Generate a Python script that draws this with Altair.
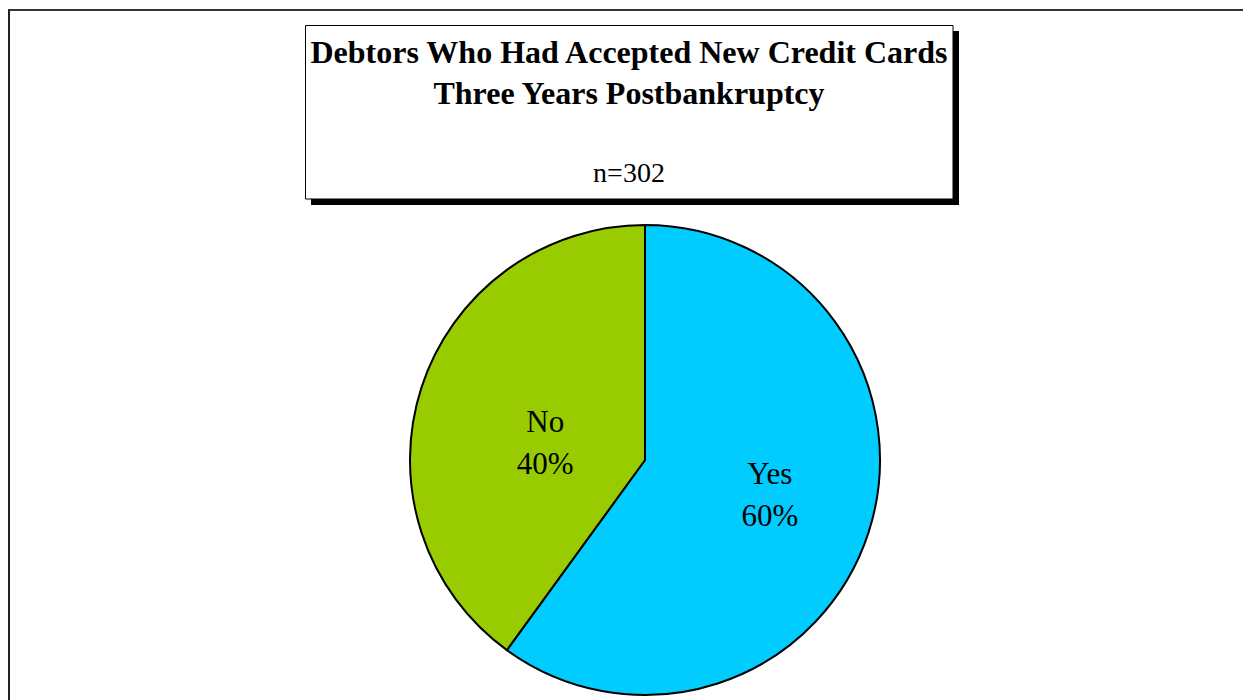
import altair as alt
import pandas as pd

categories = ["Yes", "No"]
shares = [60, 40]
colors = ["#00CCFF", "#99CC00"]
title_lines = ["Debtors Who Had Accepted New Credit Cards", "Three Years Postbankruptcy"]
subtitle = "n=302"

df = pd.DataFrame({"category": categories, "share": shares, "idx": list(range(len(categories)))})

W, H = 1235, 692
FONT = "Liberation Serif"
cx, cy, R = 637, 452, 235

base = alt.Chart(df)

# page border (left and top)
one = alt.Chart(pd.DataFrame({"k": [0]}))
top_line = one.mark_rule(color="#333333", strokeWidth=2).encode(
    x=alt.value(0), x2=alt.value(W), y=alt.value(2))
left_line = one.mark_rule(color="#222222", strokeWidth=2).encode(
    x=alt.value(1), y=alt.value(2), y2=alt.value(H))

# title box with shadow
shadow = one.mark_rect(color="black").encode(
    x=alt.value(303), x2=alt.value(951), y=alt.value(23), y2=alt.value(197))
box = one.mark_rect(fill="white", stroke="black", strokeWidth=1).encode(
    x=alt.value(297.5), x2=alt.value(945), y=alt.value(17.5), y2=alt.value(191))

t1 = one.mark_text(font=FONT, fontSize=32, fontWeight="bold", align="center",
                   baseline="alphabetic", color="black").encode(
    x=alt.value(621), y=alt.value(55), text=alt.value(title_lines[0]))
t2 = one.mark_text(font=FONT, fontSize=32, fontWeight="bold", align="center",
                   baseline="alphabetic", color="black").encode(
    x=alt.value(621), y=alt.value(96), text=alt.value(title_lines[1]))
t3 = one.mark_text(font=FONT, fontSize=28, align="center",
                   baseline="alphabetic", color="black").encode(
    x=alt.value(621), y=alt.value(174), text=alt.value(subtitle))

color_scale = alt.Scale(domain=categories, range=colors)
theta_scale = alt.Scale(domain=[0, sum(shares)])

pie = base.mark_arc(outerRadius=R, stroke="black", strokeWidth=2).encode(
    theta=alt.Theta("share:Q", stack=True, scale=theta_scale),
    color=alt.Color("category:N", scale=color_scale, legend=None),
    order=alt.Order("idx:Q"),
    x=alt.value(cx), y=alt.value(cy),
)

lab_base = base.transform_window(
    cum="sum(share)", sort=[alt.SortField("idx")]
).transform_calculate(
    mid="datum.cum - datum.share / 2 + (datum.category == 'No' ? -2.5 : -0.5)",
    label_r="datum.category == 'Yes' ? 130 : 101",
    pct="datum.share + '%'",
)

def label_layer(field, dy):
    return lab_base.mark_text(font=FONT, fontSize=31, align="center", baseline="middle",
                              dy=dy, color="black").encode(
        theta=alt.Theta("mid:Q", stack=None, scale=theta_scale),
        radius=alt.Radius("label_r:Q", scale=None),
        text=f"{field}:N",
        x=alt.value(cx), y=alt.value(cy),
    )

lab1 = label_layer("category", -21)
lab2 = label_layer("pct", 21)

chart = alt.layer(top_line, left_line, shadow, box, t1, t2, t3, pie, lab1, lab2).properties(
    width=W, height=H, padding=0, autosize=alt.AutoSizeParams(type="none"),
    background="white",
).configure_view(stroke="transparent")

chart.save("out.html", embed_options={"renderer": "svg", "actions": False})
